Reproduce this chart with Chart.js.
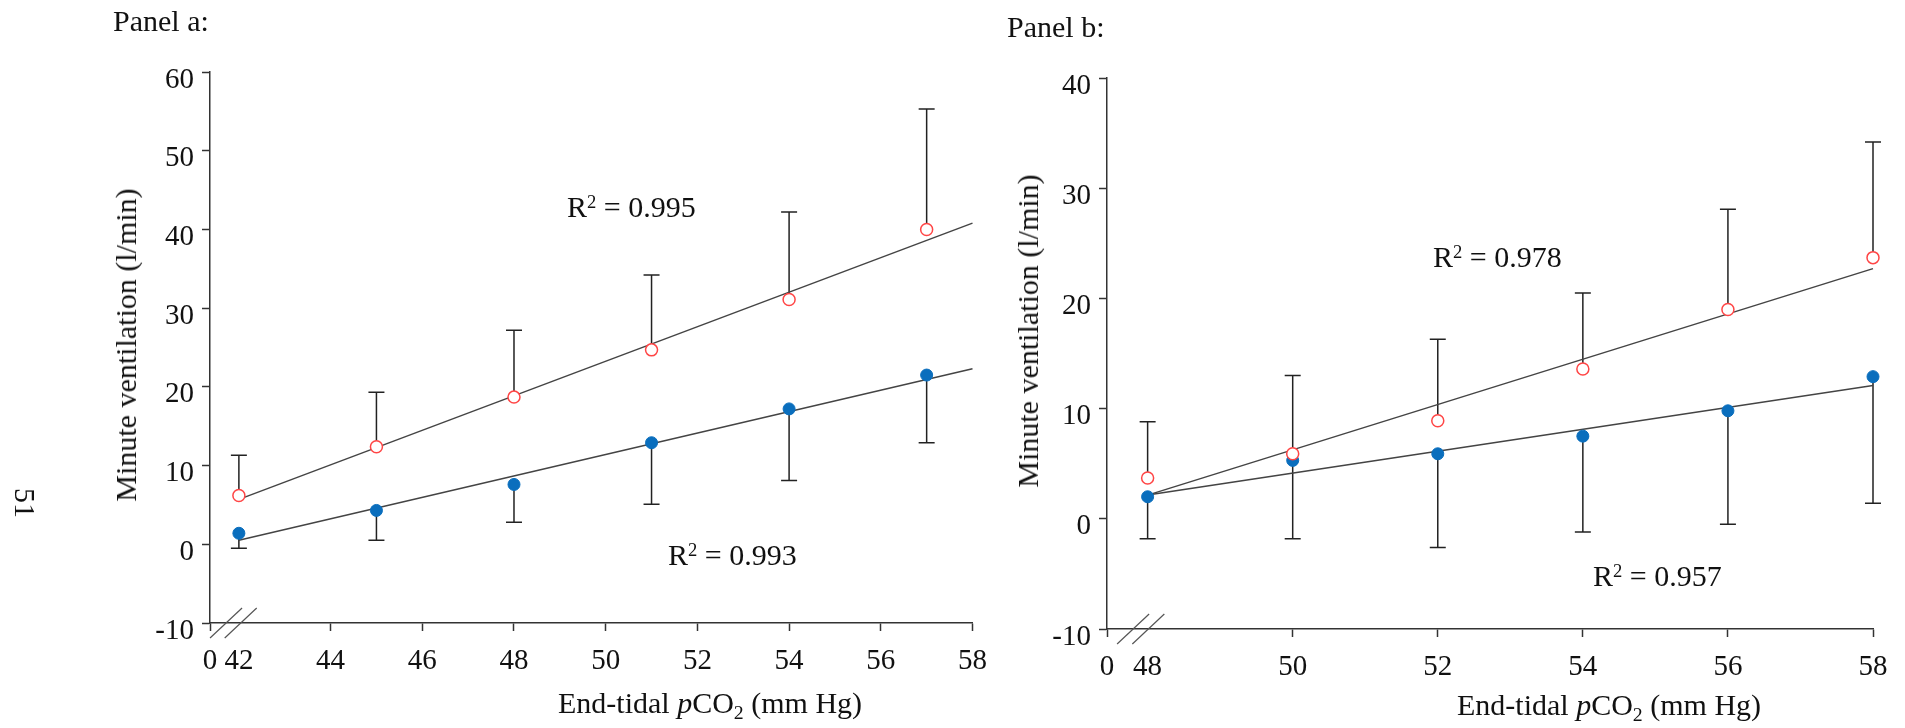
<!DOCTYPE html>
<html>
<head>
<meta charset="utf-8">
<script src="https://cdn.jsdelivr.net/npm/chart.js@4.4.1/dist/chart.umd.min.js"></script>
<style>
  body { margin: 0; background: #fff; width: 1905px; height: 728px; position: relative; overflow: hidden;
         font-family: "Liberation Serif", "Times New Roman", serif; color: #111; }
  canvas { position: absolute; top: 0; }
  #cA { left: 0; }
  #cB { left: 1000px; }
  .txt { position: absolute; white-space: nowrap; font-size: 30px; line-height: 30px; }
  .rot { transform: translate(-50%, -50%) rotate(-90deg); }
  .rot90 { transform: translate(-50%, -50%) rotate(90deg); }
  sup { font-size: 0.62em; vertical-align: 0.5em; line-height: 0; }
  sub { font-size: 0.66em; vertical-align: -0.3em; line-height: 0; }
</style>
</head>
<body>
<canvas id="cA" width="1000" height="728"></canvas>
<canvas id="cB" width="905" height="728"></canvas>

<div class="txt" style="left:113px; top:6px;">Panel a:</div>
<div class="txt" style="left:1007px; top:12px;">Panel b:</div>
<div class="txt rot90" style="left:25px; top:503px;">51</div>

<div class="txt rot" style="left:126px; top:345px;">Minute ventilation (l/min)</div>
<div class="txt rot" style="left:1028px; top:331px;">Minute ventilation (l/min)</div>
<div class="txt" style="left:558px; top:688px;">End-tidal <i>p</i>CO<sub>2</sub> (mm Hg)</div>
<div class="txt" style="left:1457px; top:690px;">End-tidal <i>p</i>CO<sub>2</sub> (mm Hg)</div>

<div class="txt" style="left:567px; top:192px;">R<sup>2</sup> = 0.995</div>
<div class="txt" style="left:668px; top:540px;">R<sup>2</sup> = 0.993</div>
<div class="txt" style="left:1433px; top:242px;">R<sup>2</sup> = 0.978</div>
<div class="txt" style="left:1593px; top:561px;">R<sup>2</sup> = 0.957</div>

<script>
// Panel a ---------------------------------------------------------------
const xA = [42, 45, 48, 51, 54, 57];
const redA = [6.2, 12.4, 18.7, 24.7, 31.1, 40.0];
const redTopA = [11.3, 19.3, 27.2, 34.2, 42.2, 55.3];
const blueA = [1.4, 4.3, 7.6, 12.9, 17.2, 21.5];
const blueBotA = [-0.5, 0.5, 2.8, 5.1, 8.1, 12.9];
const fitXA = [42, 58];
const fitRedA = [5.7, 40.8];
const fitBlueA = [0.5, 22.3];
const xTicksA = [42, 44, 46, 48, 50, 52, 54, 56, 58];
const yTicksA = [-10, 0, 10, 20, 30, 40, 50, 60];

// Panel b ---------------------------------------------------------------
const xB = [48, 50, 52, 54, 56, 58];
const redB = [3.7, 5.9, 8.9, 13.6, 19.0, 23.7];
const redTopB = [8.8, 13.0, 16.3, 20.5, 28.1, 34.2];
const blueB = [2.0, 5.3, 5.9, 7.5, 9.8, 12.9];
const blueBotB = [-1.8, -1.8, -2.6, -1.2, -0.5, 1.4];
const fitXB = [48, 58];
const fitRedB = [2.15, 22.7];
const fitBlueB = [2.15, 12.1];
const xTicksB = [48, 50, 52, 54, 56, 58];
const yTicksB = [-10, 0, 10, 20, 30, 40];

const RED = '#ff4545';
const BLUE = '#0a6ebd';
const FONT = '"Liberation Serif", "Times New Roman", serif';

const pts = (xs, ys) => xs.map((x, i) => ({ x: x, y: ys[i] }));

// error bars: line from point to errEnd with a cap
const errorBars = {
  id: 'errorBars',
  beforeDatasetsDraw(chart) {
    const ctx = chart.ctx;
    const yScale = chart.scales.y;
    chart.data.datasets.forEach((ds, i) => {
      if (!ds.errEnd) return;
      const meta = chart.getDatasetMeta(i);
      ctx.save();
      ctx.strokeStyle = '#222';
      ctx.lineWidth = 1.5;
      meta.data.forEach((p, j) => {
        const ye = yScale.getPixelForValue(ds.errEnd[j]);
        ctx.beginPath();
        ctx.moveTo(p.x, p.y);
        ctx.lineTo(p.x, ye);
        ctx.moveTo(p.x - 8, ye);
        ctx.lineTo(p.x + 8, ye);
        ctx.stroke();
      });
      ctx.restore();
    });
  }
};

// the two slashes of the axis break
const axisBreak = {
  id: 'axisBreak',
  afterDraw(chart, args, opts) {
    const ctx = chart.ctx;
    const xs = chart.scales.x;
    const y0 = chart.scales.y.bottom;
    ctx.save();
    ctx.strokeStyle = '#555';
    ctx.lineWidth = 1.2;
    opts.at.forEach(v => {
      const px = xs.getPixelForValue(v);
      ctx.beginPath();
      ctx.moveTo(px - 16, y0 + 15);
      ctx.lineTo(px + 16, y0 - 15);
      ctx.stroke();
    });
    ctx.restore();
  }
};

function makeChart(id, o) {
  const hidden = o.xTicks[0];
  return new Chart(document.getElementById(id), {
    type: 'scatter',
    data: {
      datasets: [
        { data: pts(o.x, o.red), errEnd: o.redTop, pointRadius: 6, pointBorderWidth: 1.5,
          borderColor: RED, backgroundColor: '#fff', order: 1, clip: false },
        { data: pts(o.x, o.blue), errEnd: o.blueBot, pointRadius: 6, pointBorderWidth: 1,
          borderColor: BLUE, backgroundColor: BLUE, order: 1, clip: false },
        { data: pts(o.fitX, o.fitRed), showLine: true, pointRadius: 0, borderColor: '#444',
          borderWidth: 1.5, order: 2, clip: false },
        { data: pts(o.fitX, o.fitBlue), showLine: true, pointRadius: 0, borderColor: '#444',
          borderWidth: 1.5, order: 2, clip: false }
      ]
    },
    options: {
      responsive: false,
      animation: false,
      layout: { padding: { left: 0, top: o.top, right: o.right, bottom: 0 } },
      plugins: {
        legend: { display: false },
        tooltip: { enabled: false },
        axisBreak: { at: o.breaks }
      },
      scales: {
        x: {
          type: 'linear',
          min: o.xMin,
          max: 58,
          afterBuildTicks: s => { s.ticks = [o.xMin].concat(o.xTicks).map(v => ({ value: v })); },
          afterFit: s => { s.height = o.xH; },
          ticks: {
            autoSkip: false,
            maxRotation: 0,
            padding: 13,
            color: '#111',
            font: { family: FONT, size: 29 },
            callback: v => (v === o.xMin ? '0' : v)
          },
          grid: {
            drawOnChartArea: false,
            tickLength: 8,
            tickWidth: 1.5,
            tickColor: c => (c.tick && c.tick.value === hidden ? 'rgba(0,0,0,0)' : '#333')
          },
          border: { color: '#333', width: 1.5 }
        },
        y: {
          min: -10,
          max: o.yMax,
          afterBuildTicks: s => { s.ticks = o.yTicks.map(v => ({ value: v })); },
          afterFit: s => { s.width = o.yW; },
          ticks: {
            padding: 8,
            labelOffset: 8,
            color: '#111',
            font: { family: FONT, size: 29 }
          },
          grid: { drawOnChartArea: false, tickLength: 8, tickWidth: 1.5, tickColor: '#333' },
          border: { color: '#333', width: 1.5 }
        }
      }
    },
    plugins: [errorBars, axisBreak]
  });
}

makeChart('cA', {
  x: xA, red: redA, redTop: redTopA, blue: blueA, blueBot: blueBotA,
  fitX: fitXA, fitRed: fitRedA, fitBlue: fitBlueA,
  xTicks: xTicksA, yTicks: yTicksA, xMin: 41.37, yMax: 60,
  top: 72, right: 25, yW: 210, xH: 105, breaks: [41.72, 42.04]
});

makeChart('cB', {
  x: xB, red: redB, redTop: redTopB, blue: blueB, blueBot: blueBotB,
  fitX: fitXB, fitRed: fitRedB, fitBlue: fitBlueB,
  xTicks: xTicksB, yTicks: yTicksB, xMin: 47.44, yMax: 40,
  top: 78, right: 32, yW: 107, xH: 99, breaks: [47.80, 48.01]
});
</script>
</body>
</html>
